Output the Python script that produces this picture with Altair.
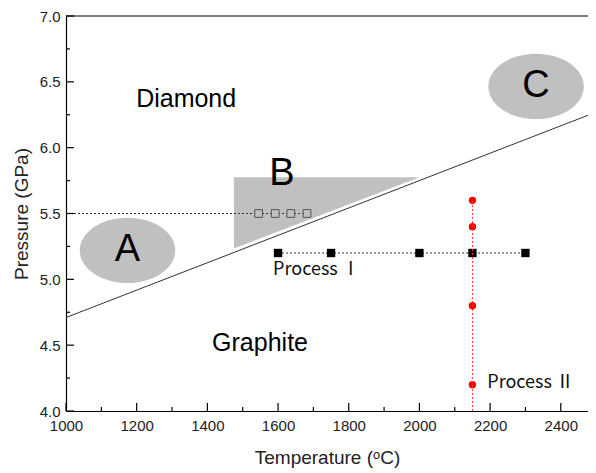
import altair as alt
import pandas as pd

# ---- data ----
phase_T = [1000, 2500]
phase_P = [4.71, 6.27]

tri_T = [1475, 2000]
tri_Plow = [5.235, 5.775]
tri_Phigh = [5.775, 5.775]

ell_T = [1174, 2330]
ell_P = [5.22, 6.465]

letters = ["A", "B", "C"]
letter_T = [1174, 1611, 2330]
letter_P = [5.22, 5.80, 6.465]

region_names = ["Diamond", "Graphite"]
region_T = [1340, 1549]
region_P = [6.37, 4.52]

b_dot_T = [1000, 1682]
b_dot_P = [5.5, 5.5]
open_T = [1545, 1592, 1636, 1682]
open_P = [5.5, 5.5, 5.5, 5.5]

p1_T = [1600, 1750, 2000, 2150, 2300]
p1_P = [5.2, 5.2, 5.2, 5.2, 5.2]

p2_T = [2150, 2150, 2150, 2150, 2150]
p2_P = [5.6, 5.4, 5.2, 4.8, 4.2]
p2_line_P = [4.0, 5.6]

proc_labels = ["Process  \u2160", "Process  \u2161"]
proc_T = [1586, 2192]
proc_P = [5.07, 4.21]

x_major = [1000, 1200, 1400, 1600, 1800, 2000, 2200, 2400]
x_minor = [1100, 1300, 1500, 1700, 1900, 2100, 2300]
y_major = [4.0, 4.5, 5.0, 5.5, 6.0, 6.5, 7.0]
y_minor = [4.25, 4.75, 5.25, 5.75, 6.25, 6.75]

W, H = 522, 395
X_MAX = 2477
FONT = "Liberation Sans"
GRAY = "#c0c0c0"

xs = alt.Scale(domain=[1000, X_MAX], nice=False, zero=False)
ys = alt.Scale(domain=[4.0, 7.0], nice=False, zero=False)


def X(f="T", axis=None):
    if axis is None:
        return alt.X(f"{f}:Q", scale=xs)
    return alt.X(f"{f}:Q", scale=xs, axis=axis)


def Y(f="P", axis=None):
    if axis is None:
        return alt.Y(f"{f}:Q", scale=ys)
    return alt.Y(f"{f}:Q", scale=ys, axis=axis)


x_axis = alt.Axis(values=x_major, format="d", ticks=False, domainColor="#000", domainWidth=1.2,
                  labelFont=FONT, labelFontSize=15, labelColor="#222", labelPadding=7,
                  labelFlush=False, labelOverlap=False,
                  title="Temperature (\u1d52C)", titleFont=FONT, titleFontSize=19,
                  titleFontWeight="normal", titleColor="#222", titlePadding=15, grid=False)
y_axis = alt.Axis(values=y_major, format=".1f", ticks=False, domainColor="#000", domainWidth=1.2,
                  labelFont=FONT, labelFontSize=15, labelColor="#222", labelPadding=6,
                  labelFlush=False, labelOverlap=False,
                  title="Pressure (GPa)", titleFont=FONT, titleFontSize=19,
                  titleFontWeight="normal", titleColor="#222", titlePadding=8, grid=False)

base_df = pd.DataFrame({"T": phase_T, "P": phase_P})
phase = alt.Chart(base_df).mark_line(color="#333", strokeWidth=1, clip=True).encode(
    x=X(axis=x_axis), y=Y(axis=y_axis))

tri = alt.Chart(pd.DataFrame({"T": tri_T, "Pl": tri_Plow, "Ph": tri_Phigh})).mark_area(
    color=GRAY, opacity=1).encode(x=X(), y=Y("Pl"), y2="Ph:Q")

ell_shape = ("M -1 0 C -1 -0.378 -0.552 -0.684 0 -0.684 C 0.552 -0.684 1 -0.378 1 0 "
             "C 1 0.378 0.552 0.684 0 0.684 C -0.552 0.684 -1 0.378 -1 0 Z")
ell = alt.Chart(pd.DataFrame({"T": ell_T, "P": ell_P})).mark_point(
    shape=ell_shape, filled=True, fill=GRAY, opacity=1, strokeWidth=0, size=9120).encode(
    x=X(), y=Y())

let = alt.Chart(pd.DataFrame({"T": letter_T, "P": letter_P, "t": letters})).mark_text(
    font=FONT, fontSize=38, color="#000", baseline="middle", align="center").encode(
    x=X(), y=Y(), text="t:N")

reg = alt.Chart(pd.DataFrame({"T": region_T, "P": region_P, "t": region_names})).mark_text(
    font=FONT, fontSize=25, color="#000", baseline="middle", align="center").encode(
    x=X(), y=Y(), text="t:N")

bdot = alt.Chart(pd.DataFrame({"T": b_dot_T, "P": b_dot_P})).mark_line(
    color="#333", strokeWidth=1, strokeDash=[2, 2]).encode(x=X(), y=Y())
opens = alt.Chart(pd.DataFrame({"T": open_T, "P": open_P})).mark_point(
    shape="square", filled=True, fill=GRAY, stroke="#555", strokeWidth=1, opacity=1, size=60).encode(
    x=X(), y=Y())

p1line = alt.Chart(pd.DataFrame({"T": p1_T, "P": p1_P})).mark_line(
    color="#333", strokeWidth=1, strokeDash=[2, 2]).encode(x=X(), y=Y())
p2dots = alt.Chart(pd.DataFrame({"T": p2_T, "P": p2_P})).mark_point(
    shape="circle", filled=True, color="#ff0000", opacity=1, size=55).encode(x=X(), y=Y())
p1sq = alt.Chart(pd.DataFrame({"T": p1_T, "P": p1_P})).mark_point(
    shape="square", filled=True, color="#000", opacity=1, size=70).encode(x=X(), y=Y())
p2line = alt.Chart(pd.DataFrame({"T": [2150, 2150], "P": p2_line_P})).mark_line(
    color="#ff3333", strokeWidth=1, strokeDash=[2, 2]).encode(x=X(), y=Y())

proc = alt.Chart(pd.DataFrame({"T": proc_T, "P": proc_P, "t": proc_labels})).mark_text(
    font="Noto Sans CJK KR", fontSize=18, color="#111", baseline="middle", align="left").encode(
    x=X(), y=Y(), text="t:N")

# inward ticks
xmaj = alt.Chart(pd.DataFrame({"T": x_major})).mark_rule(color="#000", strokeWidth=1.2).encode(
    x=X(), y=alt.value(H), y2=alt.value(H - 8))
xmin = alt.Chart(pd.DataFrame({"T": x_minor})).mark_rule(color="#000", strokeWidth=1.2).encode(
    x=X(), y=alt.value(H), y2=alt.value(H - 4))
ymaj = alt.Chart(pd.DataFrame({"P": y_major})).mark_rule(color="#000", strokeWidth=1.2).encode(
    y=Y(), x=alt.value(0), x2=alt.value(8))
ymin = alt.Chart(pd.DataFrame({"P": y_minor})).mark_rule(color="#000", strokeWidth=1.2).encode(
    y=Y(), x=alt.value(0), x2=alt.value(4))
top = alt.Chart(pd.DataFrame({"P": [7.0]})).mark_rule(color="#000", strokeWidth=1.2).encode(
    y=Y(), x=alt.value(0), x2=alt.value(W))

chart = alt.layer(
    phase, tri, ell, let, reg, bdot, opens, p1line, p2dots, p1sq, p2line, proc,
    xmaj, xmin, ymaj, ymin, top
).properties(
    width=W, height=H,
    autosize=alt.AutoSizeParams(type="none"),
    padding={"left": 58, "top": 8, "right": 0, "bottom": 60},
).configure_view(stroke=None)

chart.save("out.html", embed_options={"renderer": "svg", "actions": False})
